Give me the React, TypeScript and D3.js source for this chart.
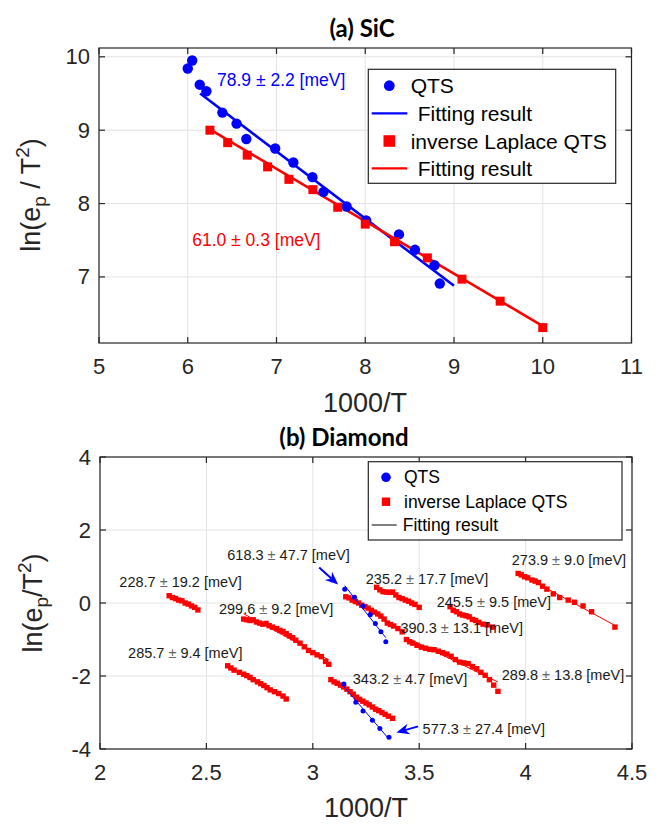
import React from "react";
import * as d3 from "d3";

// ---------- Panel (a) SiC ----------
const sicQtsX = [6.0, 6.05, 6.135, 6.21, 6.39, 6.55, 6.66, 6.985, 7.19, 7.405, 7.53, 7.79, 8.01, 8.38, 8.56, 8.78, 8.84];
const sicQtsY = [9.84, 9.95, 9.62, 9.53, 9.24, 9.09, 8.88, 8.75, 8.56, 8.36, 8.16, 7.96, 7.77, 7.58, 7.37, 7.16, 6.91];
const sicIlX = [6.25, 6.45, 6.67, 6.9, 7.14, 7.41, 7.69, 8.0, 8.33, 8.7, 9.09, 9.52, 10.0];
const sicIlY = [9.0, 8.83, 8.66, 8.5, 8.33, 8.19, 7.95, 7.72, 7.48, 7.26, 6.97, 6.67, 6.31];
const sicQtsFitX = [6.14, 9.0];
const sicQtsFitY = [9.5, 6.88];
const sicIlFitX = [6.25, 10.0];
const sicIlFitY = [9.01, 6.33];
const sicXTicks = [5, 6, 7, 8, 9, 10, 11];
const sicYTicks = [7, 8, 9, 10];
const sicLabels = [
  { x: 6.33, y: 9.69, text: "78.9 ± 2.2 [meV]", color: "#0000ff" },
  { x: 6.05, y: 7.51, text: "61.0 ± 0.3 [meV]", color: "#ff0000" },
];

// ---------- Panel (b) Diamond ----------
const d228X = [2.325, 2.34, 2.355, 2.37, 2.385, 2.4, 2.415, 2.43, 2.445, 2.46];
const d228Y = [0.2, 0.15, 0.12, 0.08, 0.06, 0.0, -0.03, -0.08, -0.12, -0.19];
const d299X = [2.675, 2.69, 2.705, 2.72, 2.735, 2.75, 2.765, 2.78, 2.795, 2.81, 2.83, 2.845, 2.86, 2.875, 2.89, 2.905, 2.92, 2.94, 2.96, 2.98, 3.0, 3.02, 3.04, 3.06, 3.075];
const d299Y = [-0.44, -0.46, -0.48, -0.46, -0.52, -0.55, -0.58, -0.56, -0.62, -0.66, -0.7, -0.75, -0.78, -0.84, -0.9, -0.95, -1.02, -1.1, -1.2, -1.3, -1.36, -1.42, -1.47, -1.6, -1.68];
const d285X = [2.6, 2.615, 2.63, 2.655, 2.675, 2.69, 2.705, 2.72, 2.74, 2.755, 2.77, 2.785, 2.8, 2.82, 2.84, 2.86, 2.875];
const d285Y = [-1.72, -1.78, -1.84, -1.9, -1.95, -1.99, -2.04, -2.1, -2.16, -2.21, -2.26, -2.32, -2.38, -2.43, -2.48, -2.55, -2.63];
const d343X = [3.085, 3.1, 3.115, 3.13, 3.145, 3.16, 3.175, 3.19, 3.205, 3.22, 3.235, 3.25, 3.265, 3.28, 3.295, 3.31, 3.325, 3.34, 3.355, 3.375];
const d343Y = [-2.1, -2.16, -2.2, -2.25, -2.3, -2.36, -2.43, -2.5, -2.58, -2.64, -2.69, -2.74, -2.79, -2.85, -2.91, -2.95, -3.0, -3.05, -3.1, -3.16];
const d390X = [3.155, 3.17, 3.185, 3.2, 3.215, 3.23, 3.245, 3.26, 3.275, 3.29, 3.305, 3.32, 3.335, 3.35, 3.365, 3.38, 3.4, 3.42];
const d390Y = [0.17, 0.14, 0.08, 0.04, 0.0, -0.06, -0.1, -0.14, -0.2, -0.25, -0.3, -0.36, -0.44, -0.55, -0.59, -0.63, -0.7, -0.79];
const d289X = [3.44, 3.455, 3.47, 3.49, 3.51, 3.53, 3.55, 3.57, 3.59, 3.61, 3.63, 3.65, 3.67, 3.69, 3.71, 3.73, 3.75, 3.77, 3.79, 3.81, 3.83, 3.85, 3.87];
const d289Y = [-1.0, -1.06, -1.1, -1.16, -1.21, -1.24, -1.27, -1.28, -1.32, -1.36, -1.4, -1.46, -1.55, -1.62, -1.64, -1.66, -1.74, -1.8, -1.9, -1.98, -2.1, -2.25, -2.42];
const d235X = [3.3, 3.315, 3.33, 3.345, 3.36, 3.375, 3.39, 3.405, 3.42, 3.435, 3.45, 3.465, 3.48, 3.5];
const d235Y = [0.43, 0.36, 0.31, 0.3, 0.29, 0.3, 0.22, 0.15, 0.12, 0.08, 0.05, 0.0, -0.04, -0.12];
const d245X = [3.645, 3.66, 3.675, 3.69, 3.705, 3.72, 3.735, 3.75, 3.765, 3.78, 3.8, 3.82, 3.845];
const d245Y = [-0.1, -0.2, -0.24, -0.3, -0.33, -0.35, -0.38, -0.45, -0.48, -0.53, -0.58, -0.6, -0.66];
const d273X = [3.965, 3.98, 3.995, 4.01, 4.03, 4.045, 4.06, 4.08, 4.1, 4.13, 4.16, 4.2, 4.23, 4.27, 4.31, 4.42];
const d273Y = [0.81, 0.77, 0.72, 0.69, 0.63, 0.6, 0.56, 0.46, 0.38, 0.25, 0.15, 0.08, 0.02, -0.08, -0.24, -0.66];
const dQtsAX = [3.15, 3.196, 3.236, 3.27, 3.294, 3.32, 3.343];
const dQtsAY = [0.375, 0.156, -0.08, -0.32, -0.56, -0.79, -1.06];
const dQtsBX = [3.146, 3.202, 3.236, 3.28, 3.315, 3.358];
const dQtsBY = [-2.22, -2.72, -2.96, -3.21, -3.44, -3.68];
const diaXTicks = [2, 2.5, 3, 3.5, 4, 4.5];
const diaYTicks = [-4, -2, 0, 2, 4];
const diaLabels = [
  { x: 2.091, y: 0.567, v: "228.7", e: "19.2" },
  { x: 2.559, y: -0.17, v: "299.6", e: "9.2" },
  { x: 2.132, y: -1.38, v: "285.7", e: "9.4" },
  { x: 2.598, y: 1.315, v: "618.3", e: "47.7" },
  { x: 3.249, y: 0.66, v: "235.2", e: "17.7" },
  { x: 3.582, y: 0.03, v: "245.5", e: "9.5" },
  { x: 3.412, y: -0.685, v: "390.3", e: "13.1" },
  { x: 3.935, y: 1.18, v: "273.9", e: "9.0" },
  { x: 3.188, y: -2.09, v: "343.2", e: "4.7" },
  { x: 3.888, y: -1.97, v: "289.8", e: "13.8" },
  { x: 3.516, y: -3.46, v: "577.3", e: "27.4" },
];
const diaArrows = [
  { x1: 3.03, y1: 0.97, x2: 3.119, y2: 0.51 },
  { x1: 3.495, y1: -3.38, x2: 3.393, y2: -3.55 },
];

const FONT = "'Liberation Sans', Arial, Helvetica, sans-serif";
const TFONT = "Lato, 'Open Sans', sans-serif";
const AX = "#262626";
const GRID = "#e3e3e3";

function fitLine(xs: number[], ys: number[]) {
  const mx = d3.mean(xs)!;
  const my = d3.mean(ys)!;
  let num = 0, den = 0;
  xs.forEach((x, i) => { num += (x - mx) * (ys[i] - my); den += (x - mx) * (x - mx); });
  const b = num / den;
  const [x0, x1] = d3.extent(xs) as [number, number];
  return [[x0, my + b * (x0 - mx)], [x1, my + b * (x1 - mx)]];
}

function Axes({ x, y, xTicks, yTicks, fmtY }: any) {
  const [l, r] = x.range();
  const [b, t] = y.range();
  const tl = 6;
  return (
    <g>
      {xTicks.map((v: number) => (
        <line key={"gx" + v} x1={x(v)} x2={x(v)} y1={t} y2={b} stroke={GRID} strokeWidth={1} />
      ))}
      {yTicks.map((v: number) => (
        <line key={"gy" + v} x1={l} x2={r} y1={y(v)} y2={y(v)} stroke={GRID} strokeWidth={1} />
      ))}
    </g>
  );
}

function Frame({ x, y, xTicks, yTicks, fmtY, fmtX }: any) {
  const [l, r] = x.range();
  const [b, t] = y.range();
  const tl = 6;
  return (
    <g>
      <rect x={l} y={t} width={r - l} height={b - t} fill="none" stroke={AX} strokeWidth={1.2} />
      {xTicks.map((v: number) => (
        <g key={"tx" + v}>
          <line x1={x(v)} x2={x(v)} y1={b} y2={b - tl} stroke={AX} strokeWidth={1.2} />
          <line x1={x(v)} x2={x(v)} y1={t} y2={t + tl} stroke={AX} strokeWidth={1.2} />
          <text x={x(v)} y={b + 23} fontSize={22} textAnchor="middle" dominantBaseline="central" fill={AX} fontFamily={FONT}>
            {fmtX(v)}
          </text>
        </g>
      ))}
      {yTicks.map((v: number) => (
        <g key={"ty" + v}>
          <line x1={l} x2={l + tl} y1={y(v)} y2={y(v)} stroke={AX} strokeWidth={1.2} />
          <line x1={r} x2={r - tl} y1={y(v)} y2={y(v)} stroke={AX} strokeWidth={1.2} />
          <text x={l - 9} y={y(v)} fontSize={22} textAnchor="end" dominantBaseline="central" fill={AX} fontFamily={FONT}>
            {fmtY(v)}
          </text>
        </g>
      ))}
    </g>
  );
}

function YLabel({ cx, cy, spaced }: any) {
  return (
    <text transform={`translate(${cx},${cy}) rotate(-90)`} textAnchor="middle" fontSize={27} fill={AX} fontFamily={FONT}>
      <tspan>ln(e</tspan>
      <tspan fontSize={19} dy={6}>p</tspan>
      <tspan dy={-6}>{spaced ? " / T" : "/T"}</tspan>
      <tspan fontSize={19} dy={-11}>2</tspan>
      <tspan dy={11}>)</tspan>
    </text>
  );
}

export default function App() {
  const xA = d3.scaleLinear().domain([5, 11]).range([99, 631.5]);
  const yA = d3.scaleLinear().domain([6.1, 10.12]).range([343, 48]);
  const xB = d3.scaleLinear().domain([2, 4.5]).range([100, 632]);
  const yB = d3.scaleLinear().domain([-4, 4]).range([749, 457]);
  const lineA = d3.line<number[]>().x((d) => xA(d[0])).y((d) => yA(d[1]));
  const lineB = d3.line<number[]>().x((d) => xB(d[0])).y((d) => yB(d[1]));

  const redSeries = [
    [d228X, d228Y], [d299X, d299Y], [d285X, d285Y], [d343X, d343Y], [d390X, d390Y],
    [d289X, d289Y], [d235X, d235Y], [d245X, d245Y], [d273X, d273Y],
  ];
  const blueSeries = [[dQtsAX, dQtsAY], [dQtsBX, dQtsBY]];

  const sq = 9;
  const sqB = 5.4;

  const arrowHead = (a: any) => {
    const x1 = xB(a.x1), y1 = yB(a.y1), x2 = xB(a.x2), y2 = yB(a.y2);
    const ang = Math.atan2(y2 - y1, x2 - x1);
    const L = 13, Wd = 5.5, back = 9;
    const p = (dl: number, dw: number) => [x2 - dl * Math.cos(ang) - dw * Math.sin(ang), y2 - dl * Math.sin(ang) + dw * Math.cos(ang)];
    const pts = [[x2, y2], p(L, Wd), p(back, 0), p(L, -Wd)];
    return { x1, y1, x2: p(back, 0)[0], y2: p(back, 0)[1], d: "M" + pts.map((q) => q.join(",")).join("L") + "Z" };
  };

  return (
    <svg width={662} height={824} style={{ position: "absolute", left: 0, top: 0, background: "#fff" }}>
      <rect width={662} height={824} fill="#fff" />
      {/* ===== Panel (a) ===== */}
      <Axes x={xA} y={yA} xTicks={sicXTicks} yTicks={sicYTicks} />
      <path d={lineA(sicQtsFitX.map((v, i) => [v, sicQtsFitY[i]]))!} stroke="#0000ff" strokeWidth={2.6} fill="none" />
      <path d={lineA(sicIlFitX.map((v, i) => [v, sicIlFitY[i]]))!} stroke="#ff0000" strokeWidth={2.6} fill="none" />
      {sicQtsX.map((v, i) => (
        <circle key={"qa" + i} cx={xA(v)} cy={yA(sicQtsY[i])} r={5.2} fill="#0000ff" />
      ))}
      {sicIlX.map((v, i) => (
        <rect key={"ia" + i} x={xA(v) - sq / 2} y={yA(sicIlY[i]) - sq / 2} width={sq} height={sq} fill="#ff0000" />
      ))}
      {sicLabels.map((lb, i) => (
        <text key={"la" + i} x={xA(lb.x)} y={yA(lb.y)} fontSize={17.5} fill={lb.color} dominantBaseline="central" fontFamily={FONT}>
          {lb.text}
        </text>
      ))}
      <Frame x={xA} y={yA} xTicks={sicXTicks} yTicks={sicYTicks} fmtY={(v: number) => String(v)} fmtX={(v: number) => String(v)} />
      {/* legend (a) */}
      <g fontFamily={FONT} fontSize={21} fill="#000">
        <rect x={368.3} y={69.3} width={247.4} height={114} fill="#fff" stroke={AX} strokeWidth={1.2} />
        <circle cx={389.3} cy={85.7} r={5.4} fill="#0000ff" />
        <text x={410.7} y={85.7} dominantBaseline="central">QTS</text>
        <line x1={371.7} x2={407.3} y1={113.3} y2={113.3} stroke="#0000ff" strokeWidth={2.2} />
        <text x={417.7} y={113.3} dominantBaseline="central">Fitting result</text>
        <rect x={389.3 - 5.8} y={141 - 5.8} width={11.6} height={11.6} fill="#ff0000" />
        <text x={410.7} y={141} dominantBaseline="central">inverse Laplace QTS</text>
        <line x1={371.7} x2={407.3} y1={168.3} y2={168.3} stroke="#ff0000" strokeWidth={2.2} />
        <text x={417.7} y={168.3} dominantBaseline="central">Fitting result</text>
      </g>
      <text x={362} y={27} textAnchor="middle" dominantBaseline="central" fontSize={24} fontWeight="bold" fontFamily={TFONT} fill="#000">
        (a) SiC
      </text>
      <YLabel cx={40} cy={195} spaced={true} />
      <text x={365} y={403} textAnchor="middle" dominantBaseline="central" fontSize={27} fill={AX} fontFamily={FONT}>1000/T</text>

      {/* ===== Panel (b) ===== */}
      <Axes x={xB} y={yB} xTicks={diaXTicks} yTicks={diaYTicks} />
      {redSeries.map((s, i) => (
        <path key={"rf" + i} d={lineB(fitLine(s[0], s[1]))!} stroke="#ff0000" strokeWidth={1} fill="none" />
      ))}
      {redSeries.map((s, i) =>
        s[0].map((v, j) => (
          <rect key={"rs" + i + "_" + j} x={xB(v) - sqB / 2} y={yB(s[1][j]) - sqB / 2} width={sqB} height={sqB} fill="#ff0000" />
        ))
      )}
      {blueSeries.map((s, i) => (
        <path key={"bf" + i} d={lineB(fitLine(s[0], s[1]))!} stroke="#0000ff" strokeWidth={1} fill="none" />
      ))}
      {blueSeries.map((s, i) =>
        s[0].map((v, j) => <circle key={"bs" + i + "_" + j} cx={xB(v)} cy={yB(s[1][j])} r={2.5} fill="#0000ff" />)
      )}
      {diaArrows.map((a, i) => {
        const h = arrowHead(a);
        return (
          <g key={"ar" + i}>
            <line x1={h.x1} y1={h.y1} x2={h.x2} y2={h.y2} stroke="#0000ff" strokeWidth={2} />
            <path d={h.d} fill="#0000ff" />
          </g>
        );
      })}
      {diaLabels.map((lb, i) => (
        <text key={"lb" + i} x={xB(lb.x)} y={yB(lb.y)} fontSize={14.5} fill="#1a1a1a" dominantBaseline="central" fontFamily={FONT}>
          {lb.v + " "}
          <tspan fill="#666">±</tspan>
          {" " + lb.e + " [meV]"}
        </text>
      ))}
      <Frame x={xB} y={yB} xTicks={diaXTicks} yTicks={diaYTicks} fmtY={(v: number) => (v < 0 ? "-" + Math.abs(v) : String(v))} fmtX={(v: number) => String(v)} />
      {/* legend (b) */}
      <g fontFamily={FONT} fontSize={17.5} fill="#000">
        <rect x={368.3} y={461.7} width={253.7} height={78.3} fill="#fff" stroke={AX} strokeWidth={1.2} />
        <circle cx={386} cy={477.3} r={4.8} fill="#0000ff" />
        <text x={404} y={477.3} dominantBaseline="central">QTS</text>
        <rect x={386 - 4.2} y={501.7 - 4.2} width={8.4} height={8.4} fill="#ff0000" />
        <text x={404} y={501.7} dominantBaseline="central">inverse Laplace QTS</text>
        <line x1={371.7} x2={396.7} y1={525} y2={525} stroke="#000" strokeWidth={1} />
        <text x={402.7} y={525} dominantBaseline="central">Fitting result</text>
      </g>
      <text x={344} y={436} textAnchor="middle" dominantBaseline="central" fontSize={24} fontWeight="bold" fontFamily={TFONT} fill="#000">
        (b) Diamond
      </text>
      <YLabel cx={42} cy={603} spaced={false} />
      <text x={366} y={808} textAnchor="middle" dominantBaseline="central" fontSize={27} fill={AX} fontFamily={FONT}>1000/T</text>
    </svg>
  );
}
